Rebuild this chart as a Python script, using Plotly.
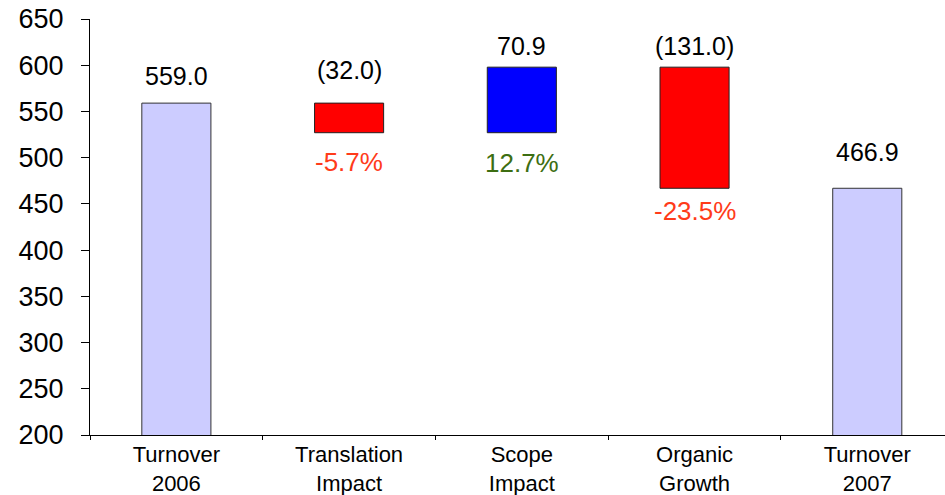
import plotly.graph_objects as go

# Turnover bridge 2006 -> 2007
categories = ["Turnover<br>2006", "Translation<br>Impact", "Scope<br>Impact",
              "Organic<br>Growth", "Turnover<br>2007"]
measures = ["absolute", "relative", "relative", "relative", "total"]
values = [559.0, -32.0, 70.9, -131.0, 466.9]
value_labels = ["559.0", "(32.0)", "70.9", "(131.0)", "466.9"]
pct_labels = ["", "-5.7%", "12.7%", "-23.5%", ""]
pct_colors = ["", "#ff3b1a", "#3d6e12", "#ff3b1a", ""]

# pixel gaps between bar edges and their labels
label_gap = [11, 17, 5, 5, 20]
pct_gap = [0, 12, 13, 6, 0]

FONT = "Liberation Sans, Arial, sans-serif"

fig = go.Figure(go.Waterfall(
    x=categories,
    y=values,
    measure=measures,
    width=0.4,
    connector=dict(visible=False),
    increasing=dict(marker=dict(color="#0000ff", line=dict(color="#222222", width=1))),
    decreasing=dict(marker=dict(color="#ff0000", line=dict(color="#222222", width=1))),
    totals=dict(marker=dict(color="#ccccff", line=dict(color="#333333", width=1))),
    textposition="none",
    hoverinfo="skip",
))

# running levels for label placement
level = 0.0
tops, bottoms = [], []
for m, v in zip(measures, values):
    if m == "absolute":
        lo, hi = 0.0, v
        level = v
    elif m == "total":
        lo, hi = 0.0, level
    else:
        start = level
        level = level + v
        lo, hi = min(start, level), max(start, level)
    tops.append(hi)
    bottoms.append(lo)

for i, cat in enumerate(categories):
    fig.add_annotation(x=cat, y=tops[i], text=value_labels[i], showarrow=False,
                       yanchor="bottom", yshift=label_gap[i],
                       font=dict(family=FONT, size=25, color="#000000"))
    if pct_labels[i]:
        fig.add_annotation(x=cat, y=bottoms[i], text=pct_labels[i], showarrow=False,
                           yanchor="top", yshift=-pct_gap[i],
                           font=dict(family=FONT, size=26, color=pct_colors[i]))

fig.update_layout(
    width=945, height=495,
    margin=dict(l=90, r=0, t=19, b=60),
    paper_bgcolor="white", plot_bgcolor="white",
    showlegend=False,
    font=dict(family=FONT, color="#000000"),
)
fig.update_yaxes(
    range=[200, 650], dtick=50, tick0=200,
    automargin=False,
    showgrid=False, zeroline=False,
    showline=True, linecolor="#000000", linewidth=1,
    ticks="outside", ticklen=8, tickcolor="#000000",
    ticklabelstandoff=12,
    tickfont=dict(family=FONT, size=27, color="#000000"),
)
fig.update_xaxes(
    type="category",
    range=[-0.5, 4.45],
    automargin=False,
    showgrid=False, zeroline=False,
    showline=True, linecolor="#000000", linewidth=1,
    ticks="outside", ticklen=4, tickcolor="#000000",
    tickson="boundaries",
    ticklabelstandoff=0,
    tickfont=dict(family=FONT, size=22, color="#000000"),
)

fig.write_html("out.html")
